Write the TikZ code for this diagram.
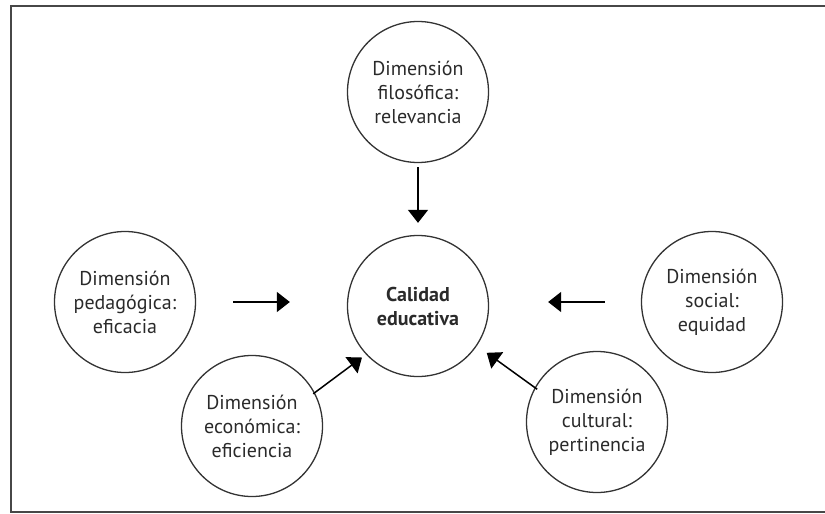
\documentclass[tikz,border=0pt]{standalone}
\usepackage{fontspec}
\setmainfont{PT Sans}
\usetikzlibrary{arrows.meta}
\definecolor{lin}{HTML}{333333}
\definecolor{txt}{HTML}{2A2A2A}
\tikzset{
  dim/.style={circle, draw=lin, line width=1.3pt, minimum size=141pt, inner sep=0pt,
    align=center, text=txt, font=\fontsize{20}{24}\selectfont},
  arr/.style={line width=1.5pt, draw=black, -{Triangle[length=13pt,width=20pt]}},
}
\begin{document}
\begin{tikzpicture}[x=1pt,y=-1pt]
\useasboundingbox (0,0) rectangle (825,514);
\clip (0,0) rectangle (825,514);
\draw[line width=2pt, draw=lin!90] (11,5.5) rectangle (840,511.5);
\node[dim] (fil) at (418,92) {Dimensión\\filosófica:\\relevancia};
\node[dim, font=\bfseries\fontsize{20}{24}\selectfont] (cal) at (418,306) {Calidad\\educativa};
\node[dim] (ped) at (125,302) {Dimensión\\pedagógica:\\eficacia};
\node[dim] (soc) at (712,302) {Dimensión\\social:\\equidad};
\node[dim] (eco) at (252,426) {Dimensión\\económica:\\eficiencia};
\node[dim] (cul) at (597,422) {Dimensión\\cultural:\\pertinencia};
\draw[arr, shorten <=4pt, shorten >=12pt] (fil.south) -- (cal.north);
\draw[arr, shorten <=37pt, shorten >=57pt] (ped.east) -- (ped.east -| cal.west);
\draw[arr, shorten <=36pt, shorten >=59pt] (soc.west) -- (soc.west -| cal.east);
\draw[arr, shorten <=-2pt, shorten >=5pt] (eco.28) -- (cal.223);
\draw[arr, shorten <=-3pt, shorten >=12pt] (cul.151) -- (cal.326);
\end{tikzpicture}
\end{document}
